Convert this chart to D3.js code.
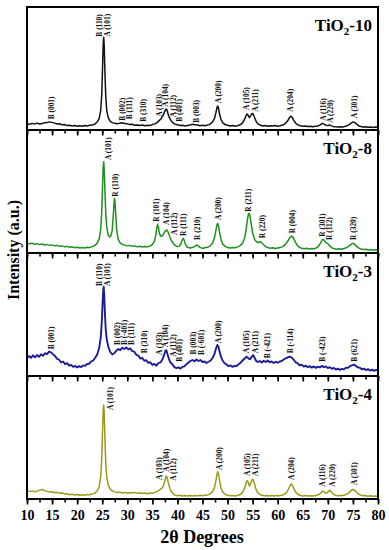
<!DOCTYPE html>
<html>
<head>
<meta charset="utf-8">
<script src="https://cdn.jsdelivr.net/npm/d3@7"></script>
<style>
  body { margin: 0; background: #fff; }
  svg { display: block; font-family: "Liberation Serif", "Times New Roman", serif; font-weight: bold; }
</style>
</head>
<body>
<svg id="chart" width="389" height="550"></svg>
<script>
// 2theta ticks
const xTicks = d3.range(10, 81, 5);
const xMinor = d3.range(10, 80.1, 2.5);

const panelNames = ['10', '8', '3', '4'];
const panelColors = ['#111111', '#1f8f1f', '#1c1c96', '#9a9a1c'];
const strokeWidths = [1.5, 1.5, 1.9, 1.5];

// [2theta, intensity (0-100 of panel height)]
const tio10 = [[10,5.2],[10.5,4.6],[11,5.4],[11.5,4.8],[12,5.6],[12.5,4.9],[13,5.3],[13.5,5.8],[14,6],[14.5,6.6],[15,6.2],[15.5,5.6],[16,4.9],[16.5,5.1],[17,4.2],[17.5,4.5],[18,3.6],[18.5,3.9],[19,3.2],[19.5,3.6],[20,3],[20.5,3.4],[21,3.1],[21.5,3.6],[22,3.3],[22.5,3.9],[23,4],[23.5,4.8],[24,6.5],[24.4,9.5],[24.7,16],[24.9,28],[25.05,48],[25.2,70],[25.3,75.5],[25.4,68],[25.55,46],[25.7,28],[25.9,16],[26.2,10],[26.6,7],[27,6],[27.5,5.4],[28,5],[28.5,5.6],[29,5.9],[29.5,5.2],[30,5],[30.5,4.4],[31,4.7],[31.5,3.8],[32,4.1],[32.5,3.6],[33,4],[33.5,3.4],[34,3.9],[34.5,3.7],[35,4.4],[35.5,5],[36,6.2],[36.4,7.8],[36.8,9.6],[37.1,11.5],[37.4,14.5],[37.7,17],[37.9,16.5],[38.1,13.5],[38.4,10],[38.7,7.8],[39,6.2],[39.5,4.8],[40,4.2],[40.5,3.6],[41,3.9],[41.5,3.3],[42,3.7],[42.5,4],[43,4.6],[43.5,4.3],[44,4],[44.5,3.5],[45,3.8],[45.5,3.4],[46,4],[46.5,4.8],[47,6.5],[47.4,9.5],[47.7,14.5],[47.9,18.5],[48.05,19.5],[48.2,17.5],[48.4,13],[48.7,8.5],[49,6],[49.5,4.4],[50,3.8],[50.5,3.3],[51,3.6],[51.5,3.1],[52,3.5],[52.5,4.2],[53,5.8],[53.4,8.8],[53.7,11.8],[53.9,13],[54.1,12],[54.35,10],[54.6,11.5],[54.9,13.4],[55.1,13],[55.4,10],[55.7,7],[56,5.2],[56.5,4],[57,3.3],[57.5,3.6],[58,3],[58.5,3.4],[59,3.2],[59.5,3.6],[60,3.1],[60.5,3.5],[61,4],[61.5,5.2],[62,7.5],[62.3,9.8],[62.6,11.3],[62.9,10.2],[63.2,7.8],[63.6,5.5],[64,4.2],[64.5,3.4],[65,3],[65.5,3.3],[66,2.8],[66.5,3.1],[67,2.7],[67.5,3],[68,3.3],[68.5,4.2],[68.9,5.4],[69.2,5],[69.6,3.8],[70,3.6],[70.3,4.2],[70.6,3.6],[71,2.9],[71.5,2.6],[72,2.4],[72.5,2.7],[73,2.5],[73.5,3],[74,3.8],[74.5,5.2],[75,6.6],[75.4,6],[75.8,4.5],[76.2,3.3],[76.6,2.8],[77,2.4],[77.5,2.7],[78,2.2],[78.5,2.5],[79,2.1],[79.5,2.4],[80,2.2]];

const tio8 = [[10,8.2],[10.5,7.4],[11,8],[11.5,7.1],[12,7.6],[12.5,6.8],[13,7.3],[13.5,6.5],[14,7],[14.5,6.2],[15,6.6],[15.5,5.8],[16,6.2],[16.5,5.4],[17,5.8],[17.5,5],[18,5.4],[18.5,4.6],[19,5],[19.5,4.3],[20,4.7],[20.5,4],[21,4.4],[21.5,4],[22,4.6],[22.5,4.4],[23,5.2],[23.5,6],[24,8],[24.4,11.5],[24.7,19],[24.9,33],[25.05,52],[25.2,70],[25.3,74.2],[25.4,68],[25.55,50],[25.7,33],[25.9,21],[26.2,14.5],[26.5,13],[26.8,14.5],[27,19],[27.2,30],[27.35,40],[27.45,44.5],[27.55,42],[27.7,31],[27.9,18],[28.2,11],[28.6,8],[29,7],[29.5,6.4],[30,5.8],[30.5,6.2],[31,5.4],[31.5,5.8],[32,5],[32.5,5.5],[33,4.8],[33.5,5.3],[34,5],[34.5,5.6],[35,6.8],[35.4,9.5],[35.7,15],[35.9,21],[36.05,23.3],[36.2,21],[36.4,16],[36.7,13.5],[37,14],[37.3,16],[37.6,18],[37.9,18.7],[38.2,16.5],[38.5,13],[38.8,10],[39.2,7.5],[39.6,6],[40,5.2],[40.4,5.6],[40.7,7.5],[40.95,10.5],[41.15,12],[41.35,10.5],[41.6,7],[42,4.6],[42.5,4],[43,4.5],[43.4,5.2],[43.8,6.5],[44.1,6],[44.5,4.6],[45,3.8],[45.5,4.2],[46,4.6],[46.5,5.6],[47,8],[47.4,12.5],[47.7,19],[47.9,23],[48.05,24],[48.2,22],[48.4,17],[48.7,11],[49,7.5],[49.5,5.4],[50,4.5],[50.5,4],[51,4.4],[51.5,4.2],[52,5],[52.5,6],[53,8],[53.4,12],[53.7,19],[53.95,27],[54.15,31.5],[54.3,32.3],[54.45,30.5],[54.7,24],[55,16],[55.4,11],[55.8,9],[56.2,8.5],[56.6,9.2],[57,7.5],[57.5,5.5],[58,4.4],[58.5,3.8],[59,4.2],[59.5,3.6],[60,4],[60.5,4.4],[61,5.2],[61.5,6.8],[62,9.5],[62.4,12.5],[62.8,13.8],[63.1,12.5],[63.5,9],[63.9,6.2],[64.3,4.8],[64.8,3.8],[65.3,3.4],[65.8,3.8],[66.3,3.2],[66.8,3.6],[67.3,3.5],[67.8,4.4],[68.2,6],[68.6,8.5],[68.9,10.8],[69.1,11.1],[69.4,9.5],[69.7,8.2],[70,7.6],[70.3,6],[70.7,4.4],[71.2,3.6],[71.7,3],[72.2,3.4],[72.7,3],[73.2,3.6],[73.7,4.4],[74.2,5.6],[74.6,7],[75,7.9],[75.3,7.2],[75.7,5.6],[76.1,4.2],[76.6,3.2],[77.1,2.8],[77.6,3.1],[78.1,2.5],[78.6,2.8],[79.1,2.3],[79.6,2.6],[80,2.4]];

const tio3 = [[10,14.5],[10.4,16.2],[10.8,14.8],[11.2,16.8],[11.6,15.2],[12,17],[12.4,15.6],[12.8,17.6],[13.2,16.4],[13.6,18.5],[14,17.8],[14.4,19.8],[14.8,19.2],[15.2,17.6],[15.6,16.2],[16,14],[16.4,13.2],[16.8,11],[17.2,11.8],[17.6,9.6],[18,10.4],[18.4,8.4],[18.8,9],[19.2,7.4],[19.6,8.2],[20,7],[20.4,8],[20.8,7.2],[21.2,8.6],[21.6,8.2],[22,9.8],[22.4,10],[22.8,11.8],[23.2,12.6],[23.6,14.8],[24,17.5],[24.4,23],[24.7,31],[24.9,43],[25.05,57],[25.2,70],[25.3,72.6],[25.4,66],[25.55,50],[25.7,38],[25.9,30],[26.2,24],[26.6,19.5],[27,17.5],[27.4,18.5],[27.8,20.5],[28.2,22],[28.6,21],[29,23],[29.4,22],[29.8,23.2],[30.2,21.6],[30.6,22.4],[31,20.2],[31.4,19.8],[31.8,17.2],[32.2,16.6],[32.6,14.2],[33,14.6],[33.4,12.4],[33.8,12.8],[34.2,10.6],[34.6,11.2],[35,9],[35.4,9.8],[35.8,8.4],[36.2,10.4],[36.6,11],[37,13.5],[37.3,16.5],[37.6,20.5],[37.8,21],[38,18],[38.3,14],[38.6,11],[39,9.4],[39.4,7.2],[39.8,6.4],[40.2,7],[40.6,6],[41,7.4],[41.4,7.8],[41.8,9.6],[42.2,11],[42.6,12.2],[43,13],[43.4,12],[43.8,13.4],[44.2,12.2],[44.6,13],[45,11.4],[45.4,11.8],[45.8,10.6],[46.2,11.6],[46.6,12.4],[47,14.6],[47.4,18],[47.7,22.5],[47.95,25.2],[48.15,24],[48.4,20],[48.7,15.5],[49,12.6],[49.4,10.4],[49.8,9.4],[50.2,8],[50.6,8.6],[51,7.4],[51.4,8.2],[51.8,8],[52.2,9.6],[52.6,10.8],[53,12.6],[53.4,14.2],[53.8,15.8],[54.2,14.2],[54.5,13.6],[54.8,15.6],[55.1,17],[55.4,14.8],[55.7,12.2],[56,11.4],[56.4,12.2],[56.8,11],[57.2,12.4],[57.6,11.4],[58,12.6],[58.4,11.2],[58.8,11.8],[59.2,10.6],[59.6,11.6],[60,10.8],[60.4,11.8],[60.8,12.2],[61.2,13.4],[61.6,14.4],[62,15.2],[62.4,15.8],[62.8,15],[63.2,13.2],[63.6,11],[64,10.2],[64.4,8.6],[64.8,9.2],[65.2,7.6],[65.6,8.4],[66,7.2],[66.4,8],[66.8,6.8],[67.2,7.8],[67.6,6.6],[68,7.6],[68.4,7],[68.8,8.2],[69.2,7.2],[69.6,7.8],[70,6.4],[70.4,7.2],[70.8,5.8],[71.2,6.6],[71.6,5.2],[72,6],[72.4,5],[72.8,5.8],[73.2,5.4],[73.6,6.8],[74,6.6],[74.4,8],[74.8,8.6],[75.2,9.2],[75.6,8.2],[76,7],[76.4,6.6],[76.8,5.4],[77.2,6],[77.6,4.8],[78,5.6],[78.4,4.4],[78.8,5.2],[79.2,4.2],[79.6,5],[80,4.6]];

const tio4 = [[10,6.8],[10.5,6],[11,6.6],[11.5,5.8],[12,6.4],[12.5,7.2],[13,7.8],[13.5,6.8],[14,6.2],[14.5,5.6],[15,5.9],[15.5,5],[16,5.4],[16.5,4.6],[17,4.9],[17.5,4],[18,4.3],[18.5,3.5],[19,3.9],[19.5,3.2],[20,3.6],[20.5,3],[21,3.5],[21.5,3.1],[22,3.6],[22.5,3.4],[23,4],[23.5,4.8],[24,6.5],[24.4,10],[24.7,18],[24.9,32],[25.05,53],[25.2,73],[25.3,76.4],[25.4,70],[25.55,48],[25.7,30],[25.9,18],[26.2,11.5],[26.6,8],[27,6.6],[27.5,5.8],[28,5.2],[28.5,5.6],[29,4.9],[29.5,5.4],[30,4.7],[30.5,5.3],[31,4.8],[31.5,5.4],[32,4.6],[32.5,5],[33,4.4],[33.5,4.9],[34,4.3],[34.5,4.8],[35,4.6],[35.5,5.4],[36,6.2],[36.5,7.6],[36.9,8.8],[37.2,10.5],[37.5,15],[37.75,18.7],[37.95,17.5],[38.2,13],[38.5,8.5],[38.8,5.8],[39.2,4],[39.6,3],[40,2.6],[40.5,3],[41,2.5],[41.5,2.9],[42,2.4],[42.5,2.8],[43,2.5],[43.5,2.9],[44,2.6],[44.5,3],[45,2.6],[45.5,3],[46,3.2],[46.5,4.2],[47,6],[47.4,9.5],[47.7,15.5],[47.9,20.5],[48.05,22.2],[48.2,20.5],[48.4,15],[48.7,9],[49,5.8],[49.5,3.8],[50,3],[50.5,2.6],[51,2.9],[51.5,2.5],[52,2.9],[52.5,3.6],[53,5.4],[53.4,9],[53.7,13],[53.9,14.9],[54.1,13.8],[54.35,10.5],[54.6,12.5],[54.85,15.5],[55.05,16],[55.3,13.5],[55.6,9],[55.9,5.8],[56.3,4],[56.8,3],[57.3,2.6],[57.8,2.9],[58.3,2.5],[58.8,2.8],[59.3,2.4],[59.8,2.8],[60.3,2.6],[60.8,3],[61.3,3.8],[61.8,5.5],[62.2,8.5],[62.5,11.2],[62.7,12.2],[62.95,11],[63.3,7.8],[63.7,5],[64.1,3.6],[64.6,2.8],[65.1,2.5],[65.6,2.8],[66.1,2.4],[66.6,2.7],[67.1,2.5],[67.6,2.9],[68.1,3.4],[68.5,4.6],[68.9,6.3],[69.2,6],[69.5,4.8],[69.8,4.8],[70.1,6],[70.35,7.2],[70.6,6.2],[71,4.2],[71.5,3],[72,2.6],[72.5,2.9],[73,2.8],[73.5,3.4],[74,4.4],[74.5,6.2],[74.9,7.8],[75.2,7.6],[75.6,6],[76,4.4],[76.5,3.2],[77,2.6],[77.5,2.8],[78,2.3],[78.5,2.6],[79,2.2],[79.5,2.5],[80,2.3]];

// peak labels: [text, 2theta, intensity where the label starts]
const labels10 = [['B (001)',14.9,8.7],['B (110)',24.4,75.9],['A (101)',26.1,75.9],['B (002)',29.0,7.6],['B (111)',30.5,8.7],['B (310)',33.3,6.7],['A (103)',36.4,10.8],['A (104)',37.7,18.9],['A (112)',39.1,10.3],['B (401)',40.3,6.7],['B (003)',43.8,5.9],['A (200)',48.2,21.7],['A (105)',53.8,16.3],['A (211)',55.5,14.9],['A (204)',62.5,14.9],['A (116)',69.1,7.6],['A (220)',70.6,5.9],['A (301)',75.3,9.5]];
const labels8 = [['A (101)',26.2,75.6],['R (110)',27.7,45.8],['R (101)',35.9,25.4],['A (104)',37.9,22.8],['A (112)',39.3,14.6],['R (111)',41.1,13.8],['R (210)',44.0,10.6],['A (200)',48.2,26.8],['R (211)',54.1,33.6],['R (220)',57.0,12.0],['R (004)',63.0,16.0],['R (301)',69.0,13.3],['R (112)',70.4,10.6],['R (320)',75.1,10.6]];
const labels3 = [['B (001)',14.9,21.7],['B (110)',24.4,73.2],['A (101)',26.1,73.2],['B (002)',28.0,25.2],['B (-401)',29.5,25.2],['B (111)',30.9,25.2],['B (310)',33.4,18.4],['A (103)',36.4,17.1],['A (104)',37.7,23.3],['A (112)',39.1,15.7],['B (401)',40.3,11.6],['B (003)',43.2,17.5],['B (-601)',44.8,17.1],['A (200)',48.2,26.6],['A (105)',53.8,18.4],['A (211)',55.6,18.4],['B (-421)',57.9,14.4],['B (-114)',62.6,18.4],['B (-423)',69.0,11.6],['B (621)',75.3,11.6]];
const labels4 = [['A (101)',26.6,72.4],['A (103)',36.4,15.4],['A (104)',37.9,22.2],['A (112)',39.2,14.9],['A (200)',48.4,23.6],['A (105)',53.9,18.7],['A (211)',55.6,18.7],['A (204)',62.8,15.4],['A (116)',69.0,10.0],['A (220)',71.0,10.0],['A (301)',75.3,11.4]];

const spectra = [tio10, tio8, tio3, tio4];
const peakLabels = [labels10, labels8, labels3, labels4];

const plotLeft = 27, plotRight = 378, plotTop = 7, panelH = 123;
const svg = d3.select('#chart');

const x = d3.scaleLinear().domain([10, 80]).range([plotLeft, plotRight]);

spectra.forEach((data, i) => {
    const y0 = plotTop + i * panelH;
    const y = d3.scaleLinear().domain([0, 100]).range([y0 + panelH, y0]);
    const g = svg.append('g');

    const line = d3.line()
        .x(d => x(d[0]))
        .y(d => y(d[1]));

    g.append('path')
        .datum(data)
        .attr('d', line)
        .attr('fill', 'none')
        .attr('stroke', panelColors[i])
        .attr('stroke-width', strokeWidths[i])
        .attr('stroke-linejoin', 'round');

    g.selectAll('.peak')
        .data(peakLabels[i])
        .enter()
        .append('text')
        .attr('class', 'peak')
        .attr('transform', d => `translate(${x(d[1])},${y(d[2])}) rotate(-90)`)
        .attr('dy', '0.35em')
        .attr('font-size', 7.4)
        .attr('fill', '#111')
        .text(d => d[0]);

    const title = g.append('text')
        .attr('x', 372)
        .attr('y', y0 + 24)
        .attr('text-anchor', 'end')
        .attr('font-size', 17)
        .attr('fill', '#000');
    title.append('tspan').text('TiO');
    title.append('tspan').attr('font-size', 11).attr('dy', 4).text('2');
    title.append('tspan').attr('dy', -4).text('-' + panelNames[i]);

    // ticks hang below each panel's bottom line
    const axisY = y0 + panelH;
    const minor = g.append('g')
        .attr('transform', `translate(0,${axisY})`)
        .call(d3.axisBottom(x).tickValues(xMinor).tickSize(3.5).tickFormat(''));
    const major = g.append('g')
        .attr('transform', `translate(0,${axisY})`)
        .call(d3.axisBottom(x).tickValues(xTicks).tickSize(5.5).tickPadding(5.5)
            .tickFormat(i == 3 ? d3.format('d') : ''));
    [minor, major].forEach(a => {
        a.select('.domain').remove();
        a.selectAll('line').attr('stroke', '#000').attr('stroke-width', 1.6);
        a.selectAll('text')
            .attr('font-size', 14)
            .attr('font-family', '"Liberation Serif", serif')
            .attr('font-weight', 'bold')
            .attr('fill', '#000');
    });

    if (i > 0) {
        svg.append('line')
            .attr('x1', plotLeft).attr('x2', plotRight)
            .attr('y1', y0).attr('y2', y0)
            .attr('stroke', '#000').attr('stroke-width', 2);
    }
});

svg.append('rect')
    .attr('x', plotLeft).attr('y', plotTop)
    .attr('width', plotRight - plotLeft).attr('height', panelH * 4)
    .attr('fill', 'none')
    .attr('stroke', '#000')
    .attr('stroke-width', 2);

svg.append('text')
    .attr('x', 202)
    .attr('y', 543)
    .attr('text-anchor', 'middle')
    .attr('font-size', 18)
    .text('2θ Degrees');

svg.append('text')
    .attr('transform', 'translate(19,250) rotate(-90)')
    .attr('text-anchor', 'middle')
    .attr('font-size', 16)
    .text('Intensity (a.u.)');
</script>
</body>
</html>
